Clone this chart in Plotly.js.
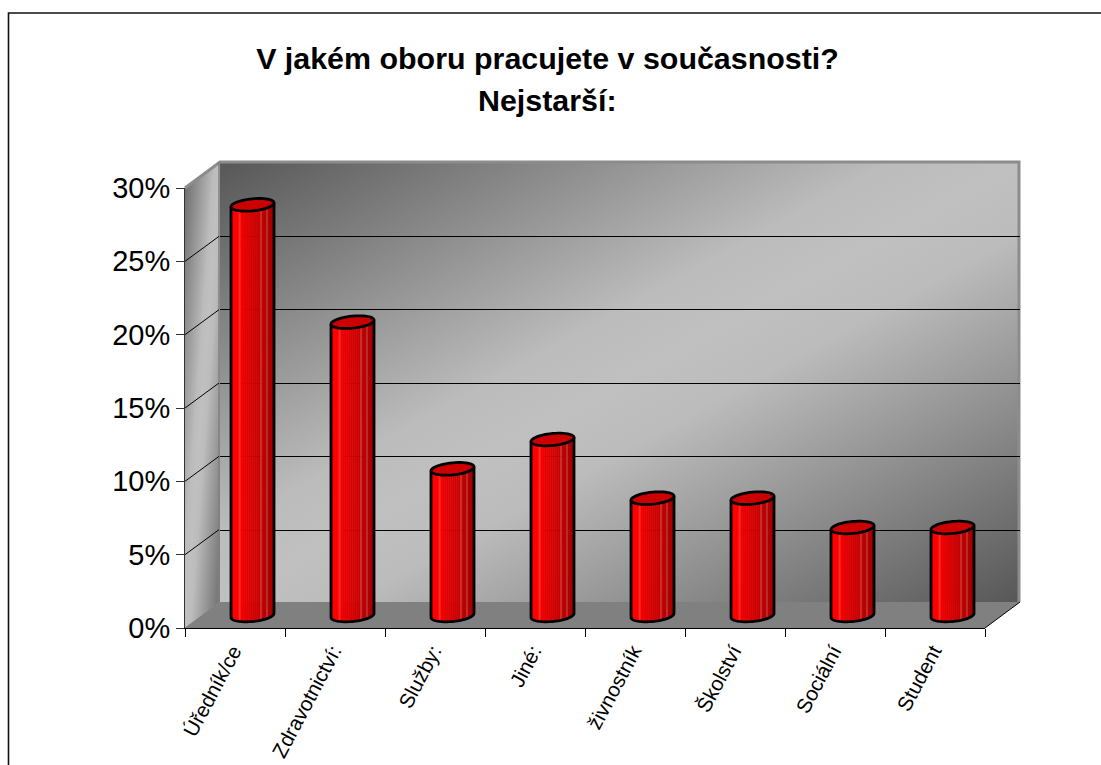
<!DOCTYPE html>
<html><head><meta charset="utf-8">
<script src="https://cdn.plot.ly/plotly-3.0.1.min.js"></script>
<style>html,body{margin:0;padding:0;background:#fff;overflow:hidden}</style>
</head><body><div id="chart" style="width:1101px;height:765px"></div>
<script>
const categories = ["Úředník/ce","Zdravotnictví:","Služby:","Jiné:","živnostník","Školství","Sociální","Student"];
const values = [28,20,10,12,8,8,6,6];
const yTicks = [0,5,10,15,20,25,30];
const yTickLabels = ["0%","5%","10%","15%","20%","25%","30%"];
const titleLine1 = "V jakém oboru pracujete v současnosti?";
const titleLine2 = "Nejstarší:";
const stripColors = ["#ee0000","#ff0000","#ff0000","#ff0000","#ff2c2c","#f40000","#ec0000","#e60000","#e20000","#de0000","#da0000","#d60000","#d20000","#ce0000","#ca0000","#cf2a2a","#bc0000","#b80000","#bf2a2a","#ae0000","#a80000","#a00000"];

const W=1101,H=765;
const fx=p=>p/W, fy=p=>1-p/H;
const pxPerPct=14.667, pxPerCat=100;
// geometry of the oblique box, in pixels
const front={l:185,r:985,t:188,b:628}, back={l:220,r:1020,t:162,b:602};
const grid={t:163.2,b:603.4};
const bars={l:202.5,r:1002.5,zero:615.5,low:-2,high:31};
const halfW=21.5, tilt=2, minor=6;

const N=stripColors.length;
const idx=categories.map((_,i)=>i);
const dx=halfW/pxPerCat;
const traces=[];
// back wall helper trace (carries the gridlines)
traces.push({type:'scatter',mode:'markers',x:categories,y:values,xaxis:'x',yaxis:'y',marker:{opacity:0},hoverinfo:'skip',showlegend:false});
for(let i=0;i<N;i++){
  const s0=-1+2*i/N, s=-1+2*(i+0.5)/N;
  const down=(-tilt*s+minor*Math.sqrt(Math.max(0,1-s*s)))/pxPerPct;
  traces.push({type:'bar',x:idx,y:values,base:-down,width:2*dx/N+0.004,offset:s0*dx-0.002,
    xaxis:'x2',yaxis:'y2',marker:{color:stripColors[i],line:{width:0}},hoverinfo:'skip',showlegend:false});
}
// front axes helper trace
traces.push({type:'scatter',mode:'markers',x:categories,y:values,xaxis:'x3',yaxis:'y3',marker:{opacity:0},hovertemplate:'%{x}: %{y}%<extra></extra>',showlegend:false});

function ell(c,v,t){ return [c+dx*Math.cos(t), v+(tilt*Math.cos(t)+minor*Math.sin(t))/pxPerPct]; }
const shapes=[];
const OUT={color:'#000',width:2.8};
values.forEach((v,i)=>{
  // silhouette: left edge, lower half of the base ellipse, right edge
  let p=[];
  for(let k=0;k<=24;k++){const t=Math.PI+Math.PI*k/24; p.push(ell(i,0,t));}
  let d=`M${i-dx},${v-tilt/pxPerPct} `+p.map(q=>`L${q[0]},${q[1]}`).join(' ')+` L${i+dx},${v+tilt/pxPerPct}`;
  shapes.push({type:'path',xref:'x2',yref:'y2',path:d,line:OUT,fillcolor:'rgba(0,0,0,0)'});
  // top ellipse
  let e=[];
  for(let k=0;k<48;k++){e.push(ell(i,v,2*Math.PI*k/48));}
  shapes.push({type:'path',xref:'x2',yref:'y2',path:'M'+e.map(q=>`${q[0]},${q[1]}`).join(' L')+' Z',line:OUT,fillcolor:'#cc0000'});
});
// floor
const floor=`M${fx(front.l)},${fy(front.b)} L${fx(front.r)},${fy(front.b)} L${fx(back.r)},${fy(back.b)} L${fx(back.l)},${fy(back.b)} Z`;
shapes.unshift({type:'path',xref:'paper',yref:'paper',layer:'below',path:floor,fillcolor:'#808080',line:{width:0}});
// wall rim, grey
shapes.unshift({type:'path',xref:'paper',yref:'paper',layer:'below',
  path:`M${fx(front.l)},${fy(front.t)} L${fx(back.l)},${fy(back.t)} L${fx(back.r-1)},${fy(back.t)} L${fx(back.r-1)},${fy(back.b)}`,
  fillcolor:'rgba(0,0,0,0)',line:{color:'#8c8c8c',width:3}});
shapes.push({type:'line',xref:'paper',yref:'paper',layer:'below',x0:fx(back.l-1),x1:fx(back.l-1),y0:fy(back.t),y1:fy(back.b),line:{color:'#808080',width:1.5}});
// left wall gridlines (follow the tick values), and the floor's right edge
yTicks.slice(0,-1).forEach(t=>{
  const y=front.b-(front.b-front.t)*t/30;
  shapes.push({type:'line',xref:'paper',yref:'paper',layer:'above',x0:fx(front.l),x1:fx(back.l-1),y0:fy(y),y1:fy(y-25),
    line:{color:t===0?'#808080':'#000',width:1}});
});
shapes.push({type:'line',xref:'paper',yref:'paper',x0:fx(front.r),x1:fx(back.r),y0:fy(front.b),y1:fy(back.b),line:{color:'#000',width:1}});
// outer chart border: left and top only, the picture is cut off right and below
shapes.push({type:'path',xref:'paper',yref:'paper',path:`M${fx(8.5)},${fy(770)} L${fx(8.5)},${fy(13)} L${fx(1105)},${fy(13)}`,fillcolor:'rgba(0,0,0,0)',line:{color:'#111',width:1.6}});

const svg=s=>'data:image/svg+xml;base64,'+btoa(s);
const stops=(d,l)=>`<stop offset="0" stop-color="${d}"/><stop offset="0.42" stop-color="#bcbcbc"/><stop offset="0.5" stop-color="${l}"/><stop offset="0.58" stop-color="#bcbcbc"/><stop offset="1" stop-color="${d}"/>`;
const backSvg=`<svg xmlns="http://www.w3.org/2000/svg" width="800" height="440" preserveAspectRatio="none" viewBox="0 0 800 440"><defs><linearGradient id="g" x1="0" y1="0" x2="1" y2="1">${stops('#575757','#c0c0c0')}</linearGradient></defs><rect width="800" height="440" fill="url(#g)"/></svg>`;
const sideSvg=`<svg xmlns="http://www.w3.org/2000/svg" width="35" height="466" viewBox="0 0 35 466"><defs><linearGradient id="g" x1="0" y1="0" x2="1" y2="1">${stops('#6a6a6a','#c0c0c0')}</linearGradient></defs><polygon points="0,26 35,0 35,440 0,466" fill="url(#g)"/></svg>`;

const layout={
  width:W,height:H,autosize:false,margin:{l:0,r:0,t:0,b:0,pad:0},
  paper_bgcolor:'#fff',plot_bgcolor:'rgba(0,0,0,0)',showlegend:false,barmode:'overlay',
  font:{family:'"Liberation Sans",Arial,sans-serif',color:'#000'},
  title:{text:titleLine1,font:{size:30.4,family:'"Liberation Sans",Arial,sans-serif',color:'#000',weight:700},x:fx(547.5),xanchor:'center',y:fy(58),yanchor:'middle'},
  annotations:[{text:'<b>'+titleLine2+'</b>',xref:'paper',yref:'paper',x:fx(547.5),y:fy(100),xanchor:'center',yanchor:'middle',showarrow:false,font:{size:30.4,color:'#000'}}],
  images:[
    {source:svg(backSvg),xref:'paper',yref:'paper',x:fx(back.l),y:fy(back.t),sizex:(back.r-back.l)/W,sizey:(back.b-back.t)/H,xanchor:'left',yanchor:'top',sizing:'stretch',layer:'below'},
    {source:svg(sideSvg),xref:'paper',yref:'paper',x:fx(front.l),y:fy(back.t),sizex:35/W,sizey:466/H,xanchor:'left',yanchor:'top',sizing:'stretch',layer:'below'}
  ],
  shapes,
  // back wall
  xaxis:{domain:[fx(back.l),fx(back.r)],visible:false,type:'category',categoryarray:categories,range:[-0.5,7.5],fixedrange:true},
  yaxis:{domain:[fy(grid.b),fy(grid.t)],range:[0,30],tickvals:yTicks.slice(1,-1),showticklabels:false,ticks:'',showgrid:true,gridcolor:'#000',gridwidth:1,zeroline:false,showline:false,fixedrange:true},
  // bars at mid depth
  xaxis2:{domain:[fx(bars.l),fx(bars.r)],visible:false,range:[-0.5,7.5],anchor:'y2',fixedrange:true},
  yaxis2:{domain:[fy(bars.zero-bars.low*pxPerPct),fy(bars.zero-bars.high*pxPerPct)],visible:false,range:[bars.low,bars.high],anchor:'x2',fixedrange:true},
  // front axes
  xaxis3:{domain:[fx(front.l),fx(front.r)],anchor:'y3',type:'category',categoryarray:categories,range:[-0.5,7.5],tickson:'boundaries',ticks:'outside',ticklen:8,tickwidth:1,tickcolor:'#000',showline:true,linecolor:'#000',linewidth:1,showgrid:false,tickangle:-62,tickfont:{size:20.6},ticklabelshift:-2,ticklabelstandoff:2,fixedrange:true},
  yaxis3:{domain:[fy(front.b),fy(front.t)],anchor:'x3',range:[0,30],tickvals:yTicks,ticktext:yTickLabels,ticks:'outside',ticklen:8,tickwidth:1,tickcolor:'#333',showline:true,linecolor:'#333',linewidth:1,showgrid:false,zeroline:false,tickfont:{size:29},fixedrange:true}
};
Plotly.newPlot('chart',traces,layout,{displayModeBar:false,responsive:false});
</script></body></html>
